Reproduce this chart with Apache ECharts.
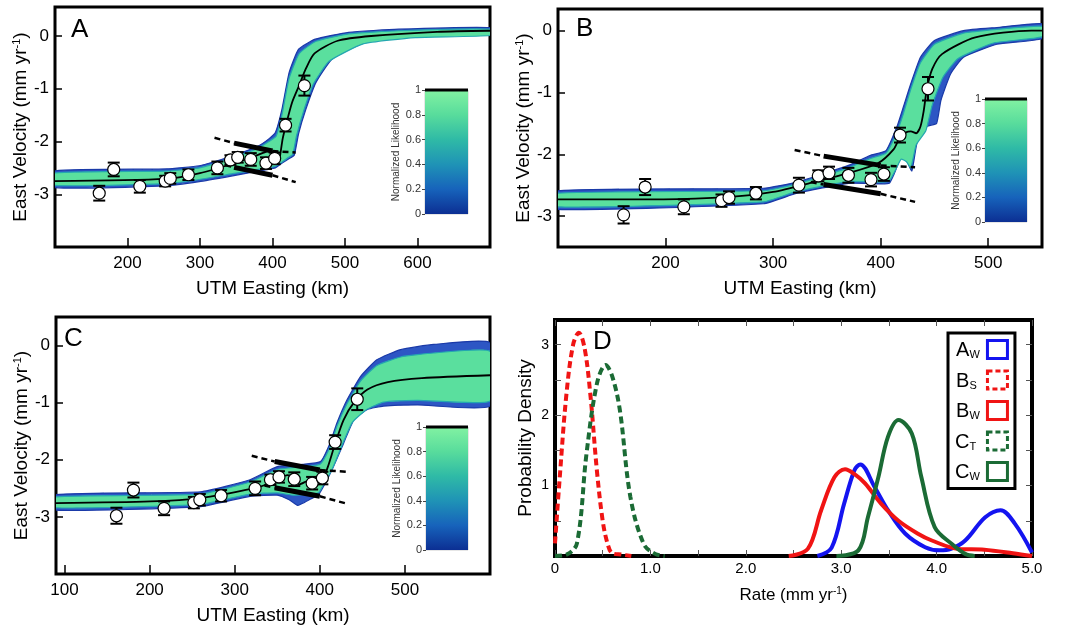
<!DOCTYPE html>
<html>
<head>
<meta charset="utf-8">
<script src="https://cdn.jsdelivr.net/npm/echarts@6/dist/echarts.min.js"></script>
<style>
html,body{margin:0;padding:0;background:#fff;}
#chart{width:1077px;height:632px;}
</style>
</head>
<body>
<div id="chart"></div>
<script>
// GPS stations (same for A, B, C)
var stationX = [161, 181, 217, 252, 259, 284, 324, 342, 352, 370, 391, 403, 418, 444];
var stationV = [-2.98, -2.53, -2.85, -2.75, -2.70, -2.63, -2.50, -2.35, -2.30, -2.34, -2.41, -2.32, -1.69, -0.94];
var stationErr = [0.14, 0.13, 0.12, 0.10, 0.10, 0.10, 0.12, 0.09, 0.10, 0.12, 0.11, 0.11, 0.12, 0.19];

// fault sketch: dashed / thick / dashed
var faultUpper = [[320, -1.93], [347, -2.03], [400, -2.18], [432, -2.21]];
var faultLower = [[335, -2.45], [347, -2.49], [400, -2.64], [432, -2.77]];

// panel A
var bestA = [[98, -2.75], [253, -2.71], [300, -2.6], [350, -2.4], [375, -2.28], [390, -2.2], [398, -2.17], [403, -2.3], [407, -2.42], [410, -2.3], [414, -1.95], [418, -1.72], [427, -1.26], [437, -0.93], [446, -0.62], [458, -0.33], [490, -0.09], [536, 0.0], [627, 0.08], [700, 0.1]];
var outerUpA = [[98, -2.56], [253, -2.52], [299, -2.46], [345, -2.27], [381, -2.08], [395, -1.95], [404, -1.83], [413, -1.39], [423, -0.69], [436, -0.25], [459, -0.06], [505, 0.07], [574, 0.13], [700, 0.16]];
var outerLoA = [[98, -2.87], [253, -2.84], [299, -2.76], [345, -2.65], [385, -2.55], [404, -2.5], [412, -2.42], [422, -2.33], [430, -2.26], [436, -1.85], [446, -1.39], [460, -0.88], [482, -0.44], [528, -0.12], [597, 0.0], [700, 0.04]];
var innerUpA = [[98, -2.6], [253, -2.56], [299, -2.5], [345, -2.31], [381, -2.12], [395, -2.0], [405, -1.9], [413, -1.5], [423, -0.8], [437, -0.33], [460, -0.1], [505, 0.04], [574, 0.1], [700, 0.13]];
var innerLoA = [[98, -2.83], [253, -2.8], [299, -2.72], [345, -2.61], [385, -2.52], [404, -2.47], [412, -2.4], [422, -2.3], [428, -2.24], [433, -1.9], [443, -1.42], [456, -0.92], [478, -0.48], [525, -0.15], [597, -0.03], [700, 0.01]];

// panel B
var bestB = [[100, -2.73], [198, -2.73], [260, -2.69], [300, -2.61], [338, -2.45], [369, -2.31], [397, -2.15], [412, -1.92], [418, -1.72], [423, -1.65], [428, -1.63], [433, -1.66], [437, -1.55], [440, -1.3], [443, -0.94], [448, -0.62], [457, -0.38], [488, -0.11], [540, 0.0], [550, 0.0]];
var outerUpB = [[100, -2.59], [291, -2.55], [322, -2.45], [370, -2.18], [390, -2.02], [405, -1.94], [415, -1.56], [421, -1.24], [428, -0.86], [437, -0.43], [450, -0.16], [477, 0.0], [508, 0.05], [550, 0.11]];
var outerLoB = [[100, -2.89], [291, -2.8], [322, -2.63], [370, -2.47], [400, -2.48], [408, -2.47], [413, -2.3], [419, -2.05], [424, -2.1], [429, -2.27], [434, -1.8], [443, -1.55], [452, -1.5], [456, -1.13], [465, -0.7], [477, -0.43], [508, -0.22], [550, -0.13]];
var innerUpB = [[100, -2.63], [291, -2.59], [322, -2.48], [370, -2.22], [390, -2.07], [405, -1.98], [415, -1.65], [421, -1.35], [428, -0.95], [437, -0.52], [450, -0.22], [477, -0.04], [508, 0.02], [550, 0.07]];
var innerLoB = [[100, -2.85], [291, -2.77], [322, -2.6], [370, -2.44], [400, -2.45], [408, -2.43], [413, -2.28], [419, -2.08], [424, -2.12], [428, -2.22], [433, -1.85], [442, -1.62], [448, -1.2], [458, -0.75], [472, -0.45], [505, -0.2], [550, -0.1]];

// panel C
var bestC = [[90, -2.76], [201, -2.73], [260, -2.67], [322, -2.5], [340, -2.42], [352, -2.33], [362, -2.27], [368, -2.3], [376, -2.43], [384, -2.38], [392, -2.33], [400, -2.33], [406, -2.25], [410, -2.1], [418, -1.72], [428, -1.3], [440, -1.0], [456, -0.77], [480, -0.64], [520, -0.57], [600, -0.52]];
var outerUpC = [[90, -2.61], [260, -2.56], [318, -2.35], [350, -2.12], [380, -2.08], [401, -2.03], [412, -1.71], [420, -1.36], [432, -0.95], [448, -0.54], [467, -0.25], [495, -0.07], [534, 0.02], [600, 0.05]];
var outerLoC = [[90, -2.88], [260, -2.82], [318, -2.64], [350, -2.62], [364, -2.7], [374, -2.8], [380, -2.76], [390, -2.68], [398, -2.62], [405, -2.45], [416, -2.12], [428, -1.71], [440, -1.3], [456, -1.12], [475, -1.06], [515, -1.04], [600, -1.06]];
var innerUpC = [[90, -2.65], [260, -2.6], [318, -2.39], [350, -2.17], [400, -2.08], [412, -1.78], [420, -1.42], [432, -1.02], [448, -0.62], [467, -0.35], [495, -0.2], [534, -0.13], [600, -0.1]];
var innerLoC = [[90, -2.84], [260, -2.78], [318, -2.6], [350, -2.58], [370, -2.62], [398, -2.58], [405, -2.42], [415, -2.15], [426, -1.75], [438, -1.35], [455, -1.12], [475, -0.99], [515, -0.96], [600, -0.97]];

// panel D: rate probability densities
var rateAW = [[2.75, 0], [2.9, 0.12], [3.03, 0.74], [3.14, 1.22], [3.2, 1.3], [3.35, 0.98], [3.49, 0.65], [3.67, 0.32], [3.88, 0.125], [4.03, 0.08], [4.15, 0.1], [4.3, 0.22], [4.51, 0.55], [4.67, 0.65], [4.82, 0.46], [5.0, 0.05]];
var rateBS = [[0, 0.18], [0.05, 1.12], [0.12, 2.3], [0.19, 3.0], [0.25, 3.17], [0.31, 2.95], [0.37, 2.3], [0.44, 1.2], [0.5, 0.5], [0.55, 0.18], [0.6, 0.04], [0.7, 0.02], [0.8, 0]];
var rateBW = [[2.45, 0], [2.65, 0.1], [2.79, 0.65], [2.93, 1.12], [3.04, 1.23], [3.15, 1.15], [3.25, 1.03], [3.42, 0.74], [3.6, 0.5], [3.8, 0.32], [3.95, 0.22], [4.23, 0.1], [4.5, 0.09], [4.8, 0.04], [5.0, 0]];
var rateCT = [[0, 0], [0.12, 0.02], [0.23, 0.18], [0.33, 1.45], [0.44, 2.45], [0.53, 2.71], [0.6, 2.55], [0.68, 2.07], [0.79, 0.84], [0.93, 0.17], [1.05, 0.03], [1.15, 0]];
var rateCW = [[2.95, 0], [3.18, 0.08], [3.28, 0.55], [3.39, 1.12], [3.49, 1.69], [3.6, 1.93], [3.74, 1.74], [3.84, 1.12], [3.98, 0.41], [4.16, 0.17], [4.3, 0.03], [4.4, 0]];

var likelihoodTicks = [0, 0.2, 0.4, 0.6, 0.8, 1];

var FONT = 'Liberation Sans, Arial, sans-serif';
var myChart = echarts.init(document.getElementById('chart'));

var grids = [
    {left: 55, top: 7, width: 435, height: 240},
    {left: 558, top: 9, width: 484, height: 238},
    {left: 56, top: 317, width: 434, height: 257},
    {left: 555, top: 320, width: 477, height: 236},
    {left: 425, top: 90, width: 43, height: 124},
    {left: 985, top: 99, width: 42, height: 123},
    {left: 426, top: 427, width: 42, height: 123}
];
grids.forEach(function (g, i) {
    g.show = true;
    g.borderColor = i < 4 ? '#000' : '#999';
    g.borderWidth = i < 3 ? 3 : (i == 3 ? 4 : 0.5);
    g.backgroundColor = 'transparent';
});

var xAxes = [], yAxes = [], series = [];

function velAxes(gi, xmin, xmax, xlabels, ymin, ymax) {
    xAxes.push({
        type: 'value', gridIndex: gi, min: xmin, max: xmax, position: 'bottom',
        axisLine: {show: false, onZero: false}, splitLine: {show: false},
        axisTick: {inside: true, length: 9, customValues: xlabels, lineStyle: {color: '#000', width: 1.5}},
        axisLabel: {customValues: xlabels, fontSize: 17, color: '#000', margin: 8, fontFamily: FONT},
        name: 'UTM Easting (km)', nameLocation: 'middle', nameGap: 32,
        nameTextStyle: {fontSize: 19, color: '#000', fontFamily: FONT}
    });
    yAxes.push({
        type: 'value', gridIndex: gi, min: ymin, max: ymax, position: 'left',
        axisLine: {show: false, onZero: false}, splitLine: {show: false},
        axisTick: {inside: true, length: 7, customValues: [-3, -2, -1, 0], lineStyle: {color: '#000', width: 1.5}},
        axisLabel: {customValues: [-3, -2, -1, 0], fontSize: 17, color: '#000', margin: 6, fontFamily: FONT},
        name: 'East Velocity (mm yr{sup|-1})', nameLocation: 'middle', nameGap: 21, nameRotate: 90,
        nameTextStyle: {fontSize: 19, color: '#000', fontFamily: FONT,
            rich: {sup: {fontSize: 11, verticalAlign: 'top', fontFamily: FONT, padding: [0, 0, 8, 0]}}}
    });
}

function band(gi, up, lo, fill, stroke) {
    return {
        type: 'custom', xAxisIndex: gi, yAxisIndex: gi, clip: true, silent: true, z: 1,
        data: [up[0]],
        renderItem: function (params, api) {
            var pts = up.concat(lo.slice().reverse()).map(function (p) { return api.coord(p); });
            return {type: 'polygon', shape: {points: pts, smooth: 0.15},
                style: {fill: fill, stroke: stroke || null, lineWidth: 1.2}};
        }
    };
}

function lineS(gi, data, width, dashed, z) {
    return {
        type: 'line', xAxisIndex: gi, yAxisIndex: gi, data: data, symbol: 'none', silent: true, z: z || 3,
        lineStyle: {color: '#000', width: width, type: dashed ? [6, 4] : 'solid'}
    };
}

function velPanel(gi, best, oUp, oLo, iUp, iLo) {
    series.push(band(gi, oUp, oLo, '#2d56c4', '#1a3aa8'));
    series.push(band(gi, iUp, iLo, '#5adf9e', '#24a7b0'));
    var b = lineS(gi, best, 1.8, false, 4);
    b.smooth = 0.25;
    series.push(b);
    series.push(lineS(gi, faultUpper.slice(0, 2), 2.5, true));
    series.push(lineS(gi, faultUpper.slice(1, 3), 5, false));
    series.push(lineS(gi, faultUpper.slice(2, 4), 2.5, true));
    series.push(lineS(gi, faultLower.slice(0, 2), 2.5, true));
    series.push(lineS(gi, faultLower.slice(1, 3), 5, false));
    series.push(lineS(gi, faultLower.slice(2, 4), 2.5, true));
    var errData = stationX.map(function (x, i) {
        return [x, stationV[i] - stationErr[i], stationV[i] + stationErr[i]];
    });
    series.push({
        type: 'custom', xAxisIndex: gi, yAxisIndex: gi, silent: true, z: 5,
        data: errData, encode: {x: 0, y: [1, 2]},
        renderItem: function (params, api) {
            var lo = api.coord([api.value(0), api.value(1)]);
            var hi = api.coord([api.value(0), api.value(2)]);
            var st = {stroke: '#000', lineWidth: 2};
            return {type: 'group', children: [
                {type: 'line', shape: {x1: lo[0], y1: lo[1], x2: hi[0], y2: hi[1]}, style: st},
                {type: 'line', shape: {x1: lo[0] - 6, y1: lo[1], x2: lo[0] + 6, y2: lo[1]}, style: st},
                {type: 'line', shape: {x1: hi[0] - 6, y1: hi[1], x2: hi[0] + 6, y2: hi[1]}, style: st}
            ]};
        }
    });
    series.push({
        type: 'scatter', xAxisIndex: gi, yAxisIndex: gi, silent: true, z: 6,
        data: stationX.map(function (x, i) { return [x, stationV[i]]; }),
        symbolSize: 12,
        itemStyle: {color: '#fff', borderColor: '#000', borderWidth: 1.2, opacity: 1}
    });
}

velAxes(0, 100, 700, [200, 300, 400, 500, 600], -4, 0.55);
velAxes(1, 100, 550, [200, 300, 400, 500], -3.5, 0.35);
velAxes(2, 90, 600, [100, 200, 300, 400, 500], -4, 0.5);
velPanel(0, bestA, outerUpA, outerLoA, innerUpA, innerLoA);
velPanel(1, bestB, outerUpB, outerLoB, innerUpB, innerLoB);
velPanel(2, bestC, outerUpC, outerLoC, innerUpC, innerLoC);

// panel D axes (index 3 bottom/left, 4 top/right)
var rateLabels = [0, 1, 2, 3, 4, 5];
var rateTicks = [0, 0.5, 1, 1.5, 2, 2.5, 3, 3.5, 4, 4.5, 5];
var densLabels = [1, 2, 3];
var densTicks = [0.5, 1, 1.5, 2, 2.5, 3];
[false, true].forEach(function (top) {
    xAxes.push({
        type: 'value', gridIndex: 3, min: 0, max: 5, position: top ? 'top' : 'bottom',
        axisLine: {show: false, onZero: false}, splitLine: {show: false},
        axisTick: {inside: true, length: 6, customValues: rateTicks, lineStyle: {color: '#555', width: 1}},
        axisLabel: {show: !top, customValues: rateLabels, fontSize: 15, color: '#000', margin: 5, fontFamily: FONT,
            formatter: function (v) { return v === 0 ? '0' : v.toFixed(1); }},
        name: top ? '' : 'Rate (mm yr{sup|-1})', nameLocation: 'middle', nameGap: 30,
        nameTextStyle: {fontSize: 17, color: '#000', fontFamily: FONT,
            rich: {sup: {fontSize: 10, verticalAlign: 'top', fontFamily: FONT, padding: [0, 0, 8, 0]}}}
    });
    yAxes.push({
        type: 'value', gridIndex: 3, min: 0, max: 3.35, position: top ? 'right' : 'left',
        axisLine: {show: false, onZero: false}, splitLine: {show: false},
        axisTick: {inside: true, length: 6, customValues: densTicks, lineStyle: {color: '#555', width: 1}},
        axisLabel: {show: !top, customValues: densLabels, fontSize: 14, color: '#000', margin: 6, fontFamily: FONT},
        name: top ? '' : 'Probability Density', nameLocation: 'middle', nameGap: 20, nameRotate: 90,
        nameTextStyle: {fontSize: 19, color: '#000', fontFamily: FONT}
    });
});

var rateSeries = [
    {name: 'A_W', data: rateAW, color: '#1414f0', dashed: false},
    {name: 'B_S', data: rateBS, color: '#f01414', dashed: true},
    {name: 'B_W', data: rateBW, color: '#f01414', dashed: false},
    {name: 'C_T', data: rateCT, color: '#1b6b35', dashed: true},
    {name: 'C_W', data: rateCW, color: '#1b6b35', dashed: false}
];
rateSeries.forEach(function (r) {
    series.push({
        name: r.name, type: 'line', xAxisIndex: 3, yAxisIndex: 3, data: r.data,
        symbol: 'none', smooth: 0.35, silent: true, z: 3, color: r.color,
        lineStyle: {color: r.color, width: 4, type: r.dashed ? [7, 4] : 'solid'}
    });
});

// colorbars
[4, 5, 6].forEach(function (gi, k) {
    var ax = 4 + k + 1; // axis index after D top axes
    xAxes.push({type: 'value', gridIndex: gi, min: 0, max: 1, show: false});
    yAxes.push({
        type: 'value', gridIndex: gi, min: 0, max: 1,
        axisLine: {show: false, onZero: false}, splitLine: {show: false},
        axisTick: {show: true, length: 3, customValues: likelihoodTicks, lineStyle: {color: '#444'}},
        axisLabel: {customValues: likelihoodTicks, fontSize: 11, color: '#333', margin: 4, fontFamily: FONT},
        name: 'Normalized Likelihood', nameLocation: 'middle', nameGap: 24, nameRotate: 90,
        nameTextStyle: {fontSize: 10, color: '#333', fontFamily: FONT}
    });
    series.push({
        type: 'custom', xAxisIndex: ax, yAxisIndex: ax, silent: true, z: 8,
        data: [[0, 0, 1, 1]],
        renderItem: function (params, api) {
            var p0 = api.coord([api.value(0), api.value(1)]);
            var p1 = api.coord([api.value(2), api.value(3)]);
            return {type: 'group', children: [
                {type: 'rect', shape: {x: p0[0], y: p1[1], width: p1[0] - p0[0], height: p0[1] - p1[1]},
                    style: {fill: new echarts.graphic.LinearGradient(0, 0, 0, 1, [
                        {offset: 0, color: '#82f2a2'},
                        {offset: 0.2, color: '#58dc9c'},
                        {offset: 0.4, color: '#2fbaa6'},
                        {offset: 0.6, color: '#1f93b6'},
                        {offset: 0.8, color: '#1763bb'},
                        {offset: 1, color: '#0c2f93'}
                    ])}},
                {type: 'line', shape: {x1: p0[0], y1: p1[1], x2: p1[0], y2: p1[1]},
                    style: {stroke: '#000', lineWidth: 3}}
            ]};
        }
    });
});

var letterStyle = {fontSize: 26, fontWeight: 'normal', color: '#000', fontFamily: FONT};

myChart.setOption({
    animation: false,
    backgroundColor: '#fff',
    title: [
        {text: 'A', left: 71, top: 17, textStyle: letterStyle, padding: 0},
        {text: 'B', left: 576, top: 16, textStyle: letterStyle, padding: 0},
        {text: 'C', left: 64, top: 326, textStyle: letterStyle, padding: 0},
        {text: 'D', left: 593, top: 329, textStyle: letterStyle, padding: 0}
    ],
    legend: {
        left: 948, top: 333, orient: 'vertical', align: 'right',
        padding: [6, 6, 6, 7], itemGap: 9, itemWidth: 20, itemHeight: 18,
        borderColor: '#000', borderWidth: 3, backgroundColor: '#fff',
        data: rateSeries.map(function (r) {
            return {name: r.name, icon: 'rect',
                itemStyle: {color: 'rgba(0,0,0,0)', borderColor: r.color, borderWidth: 3, borderType: r.dashed ? [5, 3] : 'solid'}};
        }),
        formatter: function (name) {
            var p = name.split('_');
            return '{m|' + p[0] + '}{s|' + p[1] + '}';
        },
        textStyle: {
            rich: {
                m: {fontSize: 20, color: '#000', fontFamily: FONT, lineHeight: 22, verticalAlign: 'bottom', align: 'left'},
                s: {fontSize: 11, color: '#000', fontFamily: FONT, verticalAlign: 'bottom', lineHeight: 22, padding: [6, 0, 0, 0], width: 13, align: 'left'}
            }
        }
    },
    grid: grids,
    xAxis: xAxes,
    yAxis: yAxes,
    series: series
});

window.addEventListener("resize", function () {
    myChart.resize();
});
</script>
</body>
</html>
